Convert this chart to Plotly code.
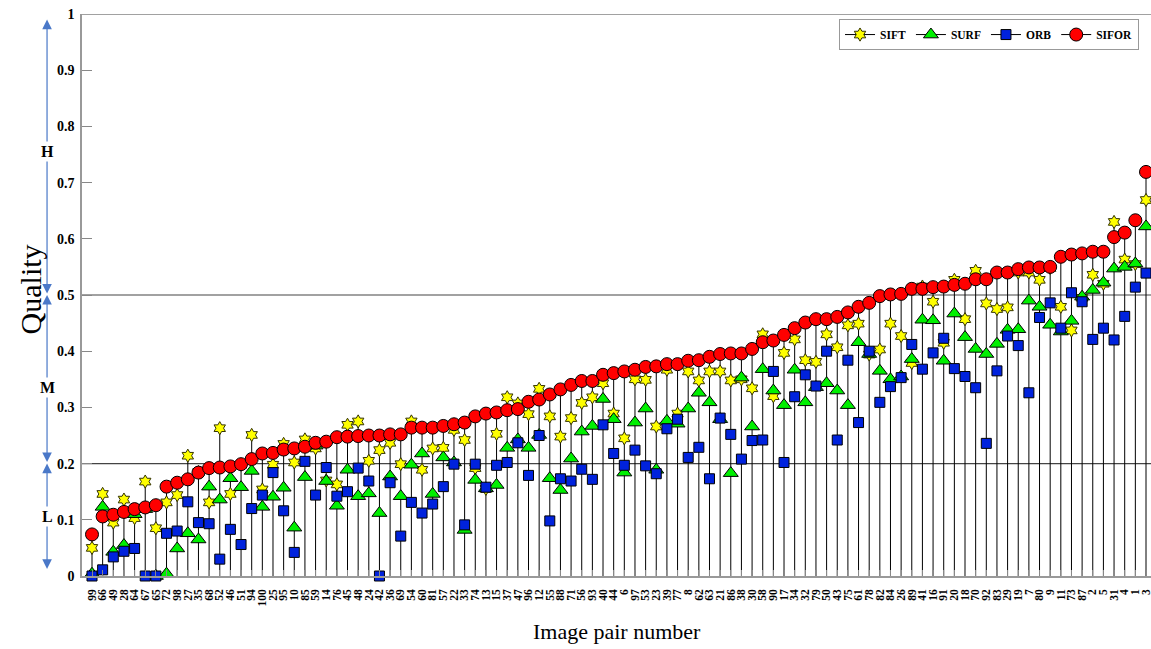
import plotly.graph_objects as go

pairs = ["99","66","49","28","64","67","65","72","98","27","35","68","52","46","51","94",
         "100","25","95","10","85","59","14","76","45","48","24","42","36","69","54","60","81",
         "57","22","33","74","13","15","37","47","96","12","55","88","71","56","93","40",
         "44","6","97","53","23","39","77","8","62","63","21","86","38","30","58","90","17",
         "34","32","79","50","43","75","61","78","82","84","26","89","41","16","91","20","18",
         "70","92","83","29","19","7","80","9","11","73","87","2","5","31","4","1","3"]

sift = [0.050,0.146,0.095,0.136,0.103,0.168,0.085,0.131,0.144,0.214,0.185,0.131,0.263,0.146,0.198,0.251,
        0.154,0.198,0.235,0.202,0.243,0.227,0.170,0.163,0.269,0.275,0.205,0.224,0.237,0.199,0.275,0.189,0.227,
        0.228,0.260,0.242,0.192,0.155,0.253,0.318,0.307,0.288,0.333,0.284,0.248,0.281,0.308,0.318,0.343,
        0.289,0.245,0.350,0.349,0.266,0.367,0.289,0.364,0.348,0.364,0.364,0.348,0.350,0.334,0.430,0.320,0.397,
        0.421,0.384,0.381,0.430,0.407,0.446,0.449,0.394,0.403,0.449,0.427,0.379,0.515,0.488,0.415,0.527,0.457,
        0.543,0.485,0.475,0.478,0.540,0.540,0.527,0.548,0.479,0.437,0.495,0.536,0.520,0.630,0.563,0.555,0.669]

surf = [0.004,0.123,0.043,0.055,0.110,0.119,0.000,0.004,0.049,0.076,0.065,0.159,0.136,0.174,0.158,0.187,
        0.123,0.141,0.157,0.086,0.176,0.232,0.169,0.125,0.189,0.142,0.147,0.112,0.177,0.142,0.198,0.218,0.146,
        0.211,0.202,0.082,0.171,0.156,0.162,0.228,0.243,0.228,0.251,0.174,0.153,0.209,0.257,0.267,0.315,
        0.279,0.184,0.273,0.298,0.189,0.276,0.271,0.298,0.326,0.309,0.279,0.183,0.353,0.266,0.368,0.330,0.304,
        0.367,0.309,0.336,0.343,0.330,0.304,0.416,0.395,0.365,0.350,0.355,0.386,0.456,0.455,0.383,0.467,0.425,
        0.404,0.395,0.413,0.438,0.439,0.490,0.479,0.447,0.435,0.454,0.497,0.509,0.522,0.547,0.550,0.556,0.622]

orb = [0.000,0.011,0.034,0.044,0.049,0.000,0.000,0.076,0.080,0.132,0.095,0.093,0.030,0.083,0.056,0.120,
       0.144,0.184,0.116,0.042,0.204,0.144,0.193,0.142,0.150,0.192,0.169,0.000,0.166,0.071,0.131,0.112,0.128,
       0.159,0.199,0.091,0.199,0.158,0.197,0.202,0.237,0.179,0.250,0.098,0.173,0.169,0.190,0.172,0.269,
       0.218,0.197,0.224,0.196,0.182,0.262,0.279,0.211,0.229,0.173,0.281,0.252,0.208,0.241,0.242,0.364,0.202,
       0.319,0.358,0.338,0.400,0.242,0.384,0.273,0.400,0.309,0.337,0.353,0.412,0.368,0.397,0.423,0.369,0.355,
       0.335,0.236,0.365,0.427,0.410,0.326,0.460,0.486,0.441,0.504,0.488,0.421,0.441,0.420,0.462,0.514,0.539]

sifor = [0.074,0.106,0.109,0.114,0.119,0.122,0.126,0.159,0.166,0.172,0.184,0.192,0.193,0.195,0.199,0.208,
         0.218,0.219,0.225,0.227,0.230,0.237,0.239,0.247,0.248,0.249,0.250,0.250,0.252,0.252,0.264,0.264,0.264,
         0.267,0.270,0.273,0.284,0.289,0.291,0.295,0.297,0.310,0.314,0.323,0.332,0.340,0.347,0.347,0.358,
         0.361,0.364,0.367,0.372,0.373,0.377,0.377,0.383,0.384,0.390,0.395,0.396,0.396,0.404,0.416,0.419,0.429,
         0.441,0.451,0.457,0.457,0.461,0.469,0.479,0.486,0.498,0.501,0.502,0.511,0.511,0.514,0.515,0.518,0.520,
         0.528,0.528,0.540,0.540,0.546,0.549,0.549,0.550,0.568,0.572,0.574,0.577,0.577,0.603,0.611,0.633,0.719]

y_ticks = [0, 0.1, 0.2, 0.3, 0.4, 0.5, 0.6, 0.7, 0.8, 0.9, 1]
y_tick_text = ["0", "0.1", "0.2", "0.3", "0.4", "0.5", "0.6", "0.7", "0.8", "0.9", "1"]

SERIF = "Liberation Serif, Times New Roman, serif"

# stems from 0 to the highest marker of each pair
sx, sy = [], []
for p, a, b, c, d in zip(pairs, sift, surf, orb, sifor):
    sx += [p, p, None]
    sy += [0, max(a, b, c, d), None]

fig = go.Figure()
fig.add_trace(go.Scatter(x=sx, y=sy, mode="lines", line=dict(color="black", width=1),
                         showlegend=False, hoverinfo="skip"))

series = [
    ("SIFT", sift, dict(symbol="hexagram", size=10, color="#FFFF00", line=dict(color="#333300", width=1))),
    ("SURF", surf, dict(symbol="triangle-up", size=13, color="#00F000", line=dict(color="#000000", width=1))),
    ("ORB", orb, dict(symbol="square", size=10, color="#0022DD", line=dict(color="#000000", width=1))),
    ("SIFOR", sifor, dict(symbol="circle", size=13, color="#FF0000", line=dict(color="#000000", width=1))),
]
for name, vals, mk in series:
    fig.add_trace(go.Scatter(x=pairs, y=vals, mode="markers", marker=mk, name=name,
                             showlegend=False, cliponaxis=False))
for name, vals, mk in series:
    fig.add_trace(go.Scatter(x=[None], y=[None], mode="lines+markers", marker=mk, name=name,
                             line=dict(color="black", width=1)))

# reference lines
for yv in [0.2, 0.5, 1.0]:
    fig.add_shape(type="line", xref="paper", yref="y", x0=0, x1=1, y0=yv, y1=yv,
                  line=dict(color="#444444", width=1.2), layer="below")

# quality band arrows
ARROW_C = "#4A78C8"
AX = -0.0327
for lo, hi in [(0.5, 0.99), (0.2, 0.5), (0.01, 0.2)]:
    fig.add_annotation(xref="paper", yref="y", x=AX, y=hi, axref="pixel", ayref="y", ax=0, ay=lo,
                       text="", showarrow=True, arrowhead=2, startarrowhead=2, arrowside="end+start",
                       arrowsize=1.6, startarrowsize=1.6, arrowwidth=1.2, arrowcolor=ARROW_C)
for lab, yv in [("H", 0.755), ("M", 0.335), ("L", 0.105)]:
    fig.add_annotation(xref="paper", yref="y", x=AX, y=yv, text="<b>" + lab + "</b>", showarrow=False,
                       xanchor="center", yanchor="middle",
                       bgcolor="white", font=dict(family=SERIF, size=16, color="black"), borderpad=1)

fig.add_annotation(xref="paper", yref="paper", x=-0.0486, y=0.51, text="Quality", textangle=-90,
                   xanchor="center", yanchor="middle",
                   showarrow=False, font=dict(family=SERIF, size=30, color="black"))
fig.add_annotation(xref="paper", yref="paper", x=0.5, y=-0.0996, text="Image pair number",
                   xanchor="center", yanchor="middle",
                   showarrow=False, font=dict(family=SERIF, size=22, color="black"))

fig.update_layout(
    width=1151, height=649,
    margin=dict(l=82, r=0, t=14, b=73),
    paper_bgcolor="white", plot_bgcolor="white",
    xaxis=dict(type="category", range=[-0.939, 99.47], showgrid=False, zeroline=False,
               tickmode="array", tickvals=pairs, ticktext=pairs,
               showline=True, linecolor="#999999", linewidth=1.5,
               ticks="inside", ticklen=6, tickcolor="#888888", tickangle=-90, ticklabelstandoff=7,
               tickfont=dict(family=SERIF, size=11.5, color="black", weight="bold")),
    yaxis=dict(range=[0, 1], tickvals=y_ticks, ticktext=y_tick_text, showgrid=False, zeroline=False,
               showline=True, linecolor="#999999", linewidth=1.5,
               ticks="inside", ticklen=10, tickcolor="#888888", ticklabelstandoff=3,
               tickfont=dict(family=SERIF, size=14, color="black", weight="bold")),
    legend=dict(orientation="h", x=0.9888, y=0.991, xanchor="right", yanchor="top",
                bgcolor="white", bordercolor="#999999", borderwidth=1,
                font=dict(family=SERIF, size=11.5, color="black", weight="bold"),
                itemwidth=30, tracegroupgap=0),
    showlegend=True,
)

fig.write_html("out.html")
